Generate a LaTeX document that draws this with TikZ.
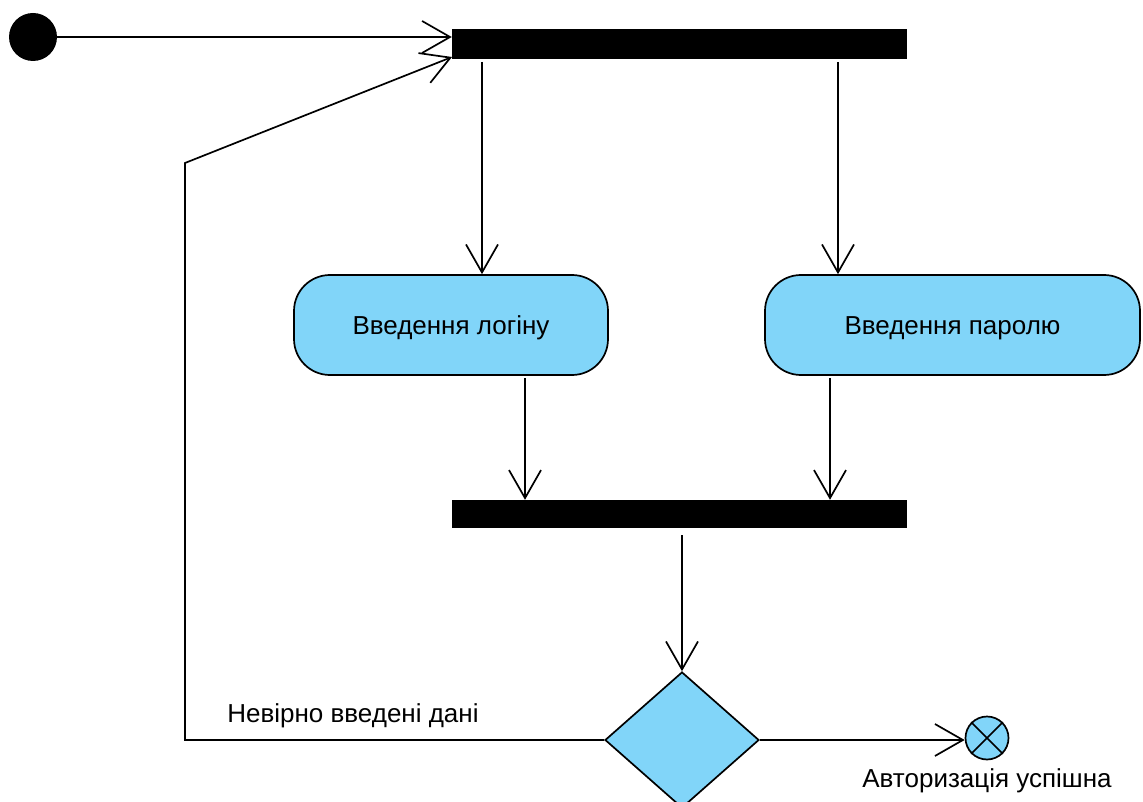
\documentclass[tikz,border=0pt]{standalone}
\usepackage{fontspec}
\setmainfont{Liberation Sans}
\usetikzlibrary{arrows.meta,shapes.geometric,calc}
\definecolor{actblue}{RGB}{129,213,249}
\begin{document}
\begin{tikzpicture}[x=1pt,y=-1pt,
  arr/.style={line width=1.7pt,-{Straight Barb[length=28pt,width=32pt,line width=1.7pt]}},
  bar/.style={fill=black,draw=none,minimum width=455pt,inner sep=0pt},
  act/.style={draw=black,line width=1.7pt,fill=actblue,rounded corners=36pt,minimum height=100pt,inner sep=0pt,text height=19pt,text depth=0pt,font=\fontsize{26}{30}\selectfont},
  lbl/.style={font=\fontsize{26}{30}\selectfont,inner sep=0pt}]
\clip (0,0) rectangle (1143,802);
\fill[white] (0,0) rectangle (1143,802);
\node[circle,fill=black,minimum size=48pt,inner sep=0pt] (init) at (33,37) {};
\node[bar,minimum height=30pt] (topbar) at (679.5,44) {};
\node[act,minimum width=314pt] (login) at (451,325) {Введення логіну};
\node[act,minimum width=375pt] (pass) at (952.5,325) {Введення паролю};
\node[bar,minimum height=28pt] (botbar) at (679.5,514) {};
\node[diamond,draw=black,line width=1.7pt,fill=actblue,minimum width=154pt,minimum height=136pt,inner sep=0pt] (dec) at (682,740) {};
\node[circle,draw=black,line width=1.7pt,fill=actblue,minimum size=43pt,inner sep=0pt] (final) at (987,738) {};
\draw[line width=1.7pt] (final.north east) -- (final.south west) (final.north west) -- (final.south east);
\node[lbl] (succ) at (987,781) {Авторизація успішна};
\node[lbl] (fail) at (353,716) {Невірно введені дані};
% connectors
\draw[arr] (init.east) -- (init.east -| topbar.west);
\coordinate (c1) at (185,740);
\coordinate (c2) at (185,163);
\coordinate (t2) at (452,57);
\draw[arr,line join=miter] (dec.west) -- (c1) -- (c2) -- (t2);
\coordinate (f1) at (482,62);
\coordinate (f2) at (838,62);
\draw[arr] (f1) -- (f1 |- login.north);
\draw[arr] (f2) -- (f2 |- pass.north);
\coordinate (j1) at (525,378);
\coordinate (j2) at (830,378);
\draw[arr] (j1) -- (j1 |- botbar.north);
\draw[arr] (j2) -- (j2 |- botbar.north);
\coordinate (d0) at (682,535);
\draw[arr] (d0) -- (dec.north);
\draw[arr] (dec.east) -- (dec.east -| final.west);
\end{tikzpicture}
\end{document}
